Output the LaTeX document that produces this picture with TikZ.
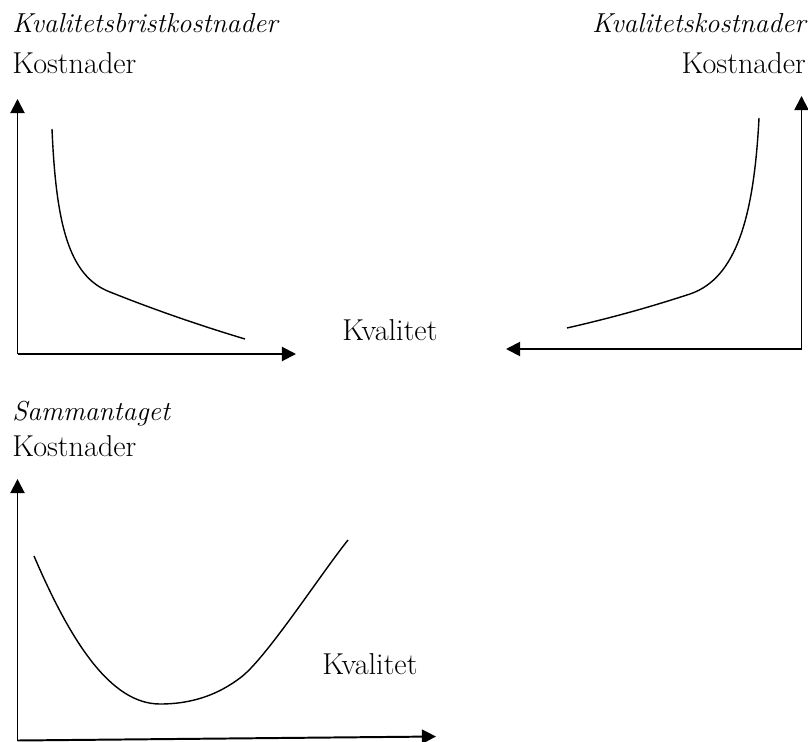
\documentclass[tikz,border=0pt]{standalone}
\usepackage{tikz}
\usetikzlibrary{arrows.meta}

\tikzset{
  axis/.style={line width=1.4pt,-{Triangle[length=10pt,width=10pt]}},
  costcurve/.style={line width=1pt},
  lbl/.style={inner sep=0pt,font=\fontsize{21.5}{25}\selectfont},
  ttl/.style={inner sep=0pt,font=\fontsize{19.5}{24}\selectfont\itshape}
}

\begin{document}
\begin{tikzpicture}[x=0.025cm,y=-0.025cm]
\useasboundingbox (0,0) rectangle (808,742);

%---------------------Kvalitetsbristkostnader------------------%
\node[ttl,anchor=base west] (ttlA) at (12,33) {Kvalitetsbristkostnader};
\node[lbl,anchor=base west] (lblA) at (12,74) {Kostnader};
\coordinate (oA) at (17.5,354);
\coordinate (yA) at (17.5,99);
\coordinate (xA) at (296,354);
\draw[axis] (oA) -- (yA);
\draw[axis] (oA) -- (xA);
\draw[costcurve] (52,129) .. controls (56,222) and (68,276) .. (110,292)
  .. controls (150,308) and (195,324) .. (245,339);
%--------------------------------------------------------%

%---------------------Kvalitetskostnader------------------%
\node[ttl,anchor=base east] (ttlB) at (806,33) {Kvalitetskostnader};
\node[lbl,anchor=base east] (lblB) at (806,74) {Kostnader};
\coordinate (oB) at (801.5,349);
\coordinate (yB) at (801.5,96);
\coordinate (xB) at (506,349);
\draw[axis] (oB) -- (yB);
\draw[axis] (oB) -- (xB);
\draw[costcurve] (759,118) .. controls (754,215) and (737,278) .. (690,294)
  .. controls (650,307) and (615,317) .. (567,328);
%--------------------------------------------------------%

\node[lbl,anchor=base west] (kvalA) at (342,340) {Kvalitet};

%---------------------Sammantaget------------------%
\node[ttl,anchor=base west] (ttlC) at (12,420) {Sammantaget};
\node[lbl,anchor=base west] (lblC) at (12,456) {Kostnader};
\coordinate (oC) at (17.5,740.5);
\coordinate (yC) at (17.5,479);
\coordinate (xC) at (436,736.5);
\draw[axis] (oC) -- (yC);
\draw[axis] (oC) -- (xC);
\draw[costcurve] (34,556) .. controls (70,640) and (110,704) .. (160,704)
  .. controls (195,704) and (220,693) .. (240,678)
  .. controls (265,660) and (320,575) .. (348,540);
\node[lbl,anchor=base west] (kvalC) at (322,674) {Kvalitet};
%--------------------------------------------------------%
\end{tikzpicture}
\end{document}
